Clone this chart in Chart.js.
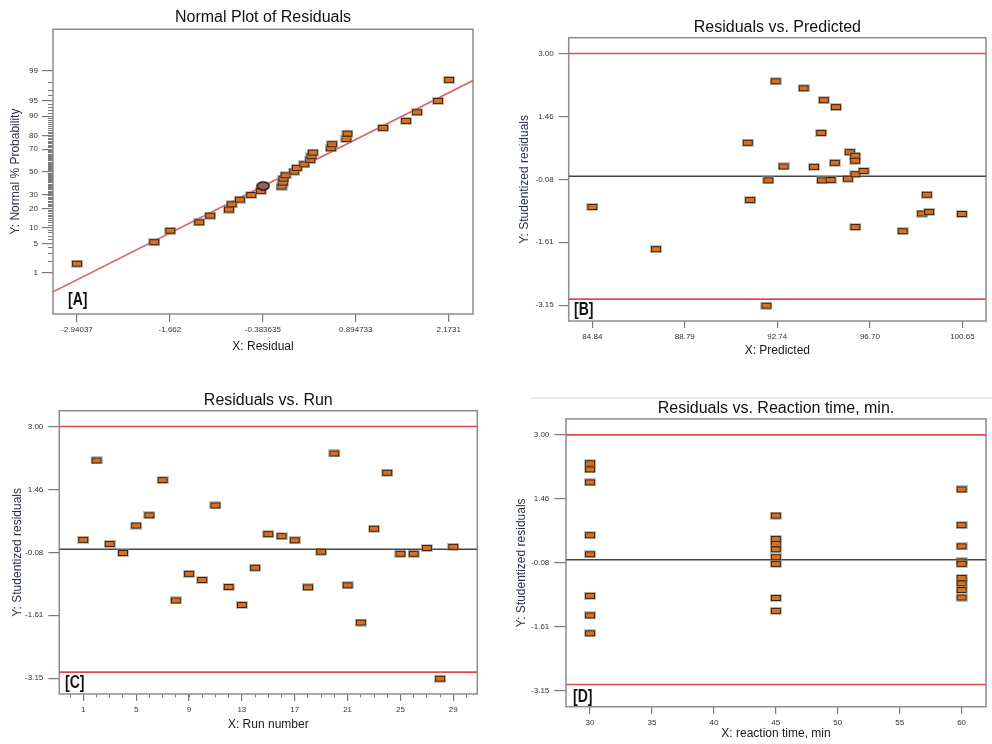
<!DOCTYPE html>
<html>
<head>
<meta charset="utf-8">
<script src="https://cdn.jsdelivr.net/npm/chart.js@4.4.1/dist/chart.umd.min.js"></script>
<style>
body { margin: 0; background: #fff; width: 992px; height: 744px; position: relative; overflow: hidden; }
canvas { position: absolute; }
.tag { position: absolute; font-family: "Liberation Sans", Arial, sans-serif; font-weight: bold; font-size: 18px; line-height: 18px; color: #111; transform: scaleX(0.78); transform-origin: 0 0; }
.sep { position: absolute; left: 531px; top: 397px; width: 461px; height: 2px; background: #e8e8e8; }
</style>
</head>
<body>
<canvas id="chartA" width="496" height="372" style="left:0;top:0"></canvas>
<canvas id="chartB" width="496" height="372" style="left:496px;top:0"></canvas>
<div class="sep"></div>
<canvas id="chartC" width="496" height="372" style="left:0;top:372px"></canvas>
<canvas id="chartD" width="496" height="372" style="left:496px;top:372px"></canvas>
<div class="tag" style="left:68px;top:290px">[A]</div>
<div class="tag" style="left:574px;top:300px">[B]</div>
<div class="tag" style="left:65px;top:673px">[C]</div>
<div class="tag" style="left:573px;top:687px">[D]</div>
<script>
// [A] normal plot of residuals
var normResidual = [-2.940, -1.877, -1.657, -1.259, -1.108, -0.851, -0.814, -0.700, -0.544, -0.411, -0.127, -0.109, -0.100, -0.072, 0.047, 0.084, 0.185, 0.267, 0.285, 0.304, 0.551, 0.569, 0.766, 0.780, 1.271, 1.587, 1.738, 2.027, 2.178];
var normProb = [1.74, 5.3, 8.8, 12.3, 15.7, 19.3, 22.8, 26.2, 29.8, 33.1, 36.8, 40.3, 43.9, 46.9, 50.3, 53.7, 57.0, 60.9, 64.1, 67.2, 70.7, 73.8, 77.6, 81.1, 84.5, 88.0, 91.5, 94.9, 98.3];
var markedResidual = [-0.379];
var markedProb = [37.4];
var normLineResidual = [-3.27, 2.507];
var normLineProb = [0.29, 98.23];
var probTicks = [1, 5, 10, 20, 30, 50, 70, 80, 90, 95, 99];
var residualTicks = ['-2.94037', '-1.662', '-0.383635', '0.894733', '2.1731'];

// [B] residuals vs predicted
var predicted = [84.84, 87.56, 91.48, 91.58, 92.28, 92.36, 92.67, 93.01, 93.87, 94.31, 94.62, 94.65, 94.73, 95.02, 95.20, 95.25, 95.76, 95.84, 96.07, 96.07, 96.08, 96.08, 96.43, 98.10, 98.93, 99.13, 99.23, 100.63];
var predResid = [-0.75, -1.78, 0.82, -0.58, -3.16, -0.10, 2.32, 0.24, 2.15, 0.23, 1.06, -0.10, 1.86, -0.09, 0.33, 1.69, -0.06, 0.59, 0.50, 0.38, 0.05, -1.24, 0.13, -1.34, -0.91, -0.45, -0.87, -0.92];
var predTicks = ['84.84', '88.79', '92.74', '96.70', '100.65'];

// [C] residuals vs run
var runNumber = [1, 2, 3, 4, 5, 6, 7, 8, 9, 10, 11, 12, 13, 14, 15, 16, 17, 18, 19, 20, 21, 22, 23, 24, 25, 26, 27, 28, 29];
var runResid = [0.23, 2.17, 0.13, -0.09, 0.58, 0.83, 1.69, -1.25, -0.60, -0.75, 1.07, -0.92, -1.36, -0.45, 0.37, 0.32, 0.22, -0.93, -0.06, 2.34, -0.88, -1.79, 0.50, 1.87, -0.11, -0.11, 0.03, -3.16, 0.06];
var runTicks = [1, 5, 9, 13, 17, 21, 25, 29];

// [D] residuals vs reaction time
var reactionTime = [30, 30, 30, 30, 30, 30, 30, 30, 45, 45, 45, 45, 45, 45, 45, 45, 60, 60, 60, 60, 60, 60, 60, 60, 60];
var timeResid = [2.32, 2.17, 1.86, 0.59, 0.13, -0.87, -1.34, -1.77, 1.06, 0.50, 0.38, 0.25, 0.06, -0.10, -0.92, -1.23, 1.69, 0.83, 0.32, -0.04, -0.10, -0.44, -0.57, -0.73, -0.91];
var timeTicks = [30, 35, 40, 45, 50, 55, 60];

// shared studentized-residual axis
var studTicks = ['3.00', '1.46', '-0.08', '-1.61', '-3.15'];
var limitLines = [3.00, -3.00];
var zeroLine = [0];

Chart.defaults.font.family = '"Liberation Sans", Arial, sans-serif';
Chart.defaults.animation = false;

// inverse normal cdf (Acklam)
function probit(p) {
    var a = [-39.69683028665376, 220.9460984245205, -275.9285104469687, 138.3577518672690, -30.66479806614716, 2.506628277459239];
    var b = [-54.47609879822406, 161.5858368580409, -155.6989798598866, 66.80131188771972, -13.28068155288572];
    var c = [-0.007784894002430293, -0.3223964580411365, -2.400758277161838, -2.549732539343734, 4.374664141464968, 2.938163982698783];
    var d = [0.007784695709041462, 0.3224671290700398, 2.445134137142996, 3.754408661907416];
    var q, r;
    if (p < 0.02425) {
        q = Math.sqrt(-2 * Math.log(p));
        return (((((c[0] * q + c[1]) * q + c[2]) * q + c[3]) * q + c[4]) * q + c[5]) / ((((d[0] * q + d[1]) * q + d[2]) * q + d[3]) * q + 1);
    }
    if (p > 1 - 0.02425) return -probit(1 - p);
    q = p - 0.5; r = q * q;
    return (((((a[0] * r + a[1]) * r + a[2]) * r + a[3]) * r + a[4]) * r + a[5]) * q / (((((b[0] * r + b[1]) * r + b[2]) * r + b[3]) * r + b[4]) * r + 1);
}

// marker images
function rectMarker() {
    var c = document.createElement('canvas');
    c.width = 12; c.height = 8;
    var g = c.getContext('2d');
    g.fillStyle = 'rgba(140,140,140,0.55)'; g.fillRect(0, 0, 12, 8);
    g.fillStyle = '#3a2208'; g.fillRect(1, 1, 10, 6);
    g.fillStyle = '#dc6f1b'; g.fillRect(2, 2, 8, 4);
    return c;
}
function ovalMarker() {
    var c = document.createElement('canvas');
    c.width = 14; c.height = 10;
    var g = c.getContext('2d');
    g.beginPath(); g.ellipse(7, 5, 6, 4, 0, 0, Math.PI * 2);
    g.fillStyle = '#a65a5c'; g.fill();
    g.lineWidth = 1.6; g.strokeStyle = '#1a1a1a'; g.stroke();
    return c;
}
var squareImg = rectMarker();
var ovalImg = ovalMarker();

var framePlugin = {
    id: 'frame',
    beforeDatasetsDraw: function (chart) {
        var a = chart.chartArea, ctx = chart.ctx;
        ctx.save();
        ctx.strokeStyle = '#8c8c8c';
        ctx.lineWidth = 1.5;
        ctx.strokeRect(a.left, a.top, a.right - a.left, a.bottom - a.top);
        ctx.restore();
    }
};

function pairs(xs, ys) {
    return xs.map(function (x, i) { return { x: x, y: ys[i] }; });
}
function setTicks(values) {
    return function (scale) { scale.ticks = values.map(function (v) { return { value: v }; }); };
}
function fixWidth(w) { return function (s) { s.width = w; }; }
function fixHeight(h) { return function (s) { s.height = h; }; }

function pointSet(data) {
    return { data: data, pointStyle: squareImg, pointRadius: 5, order: 0 };
}
function lineSet(data, color) {
    return { data: data, showLine: true, borderColor: color, borderWidth: 1.6, pointRadius: 0, order: 2 };
}
function hLines(values, xmin, xmax, color) {
    return values.map(function (v) { return lineSet([{ x: xmin, y: v }, { x: xmax, y: v }], color); });
}

function titleOpt(text, top, bottom) {
    return { display: true, text: text, fullSize: false, color: '#111', font: { size: 16, weight: 'normal' }, padding: { top: top, bottom: bottom } };
}
function xAxis(o) {
    return {
        type: 'linear', position: 'bottom', weight: 1, min: o.min, max: o.max, bounds: 'data',
        afterBuildTicks: setTicks(o.ticks), afterFit: fixHeight(o.height),
        border: { display: false },
        grid: { drawOnChartArea: false, tickLength: o.tick, color: '#7a7a7a', lineWidth: 1.2 },
        ticks: { autoSkip: false, maxRotation: 0, padding: o.pad, color: '#333', font: { size: 8 },
            callback: function (v, i) { return o.labels[i]; } },
        title: { display: true, text: o.title, color: '#1a1a1a', font: { size: 12 }, padding: { top: 0, bottom: o.titlePad } }
    };
}
function yAxis(o) {
    return {
        type: 'linear', position: 'left', weight: 1, min: o.min, max: o.max, bounds: 'data',
        afterBuildTicks: setTicks(o.ticks), afterFit: fixWidth(o.width),
        border: { display: false },
        grid: { drawOnChartArea: false, tickLength: o.tick, color: '#7a7a7a', lineWidth: 1.2 },
        ticks: { autoSkip: false, padding: o.pad, color: '#333', font: { size: 8 },
            callback: function (v, i) { return o.labels[i]; } },
        title: { display: true, text: o.title, color: '#28324a', font: { size: 12 }, padding: { top: o.titlePad, bottom: 0 } }
    };
}
function commonOptions(title, padding, scales) {
    return {
        responsive: false,
        layout: { padding: padding },
        plugins: { legend: { display: false }, tooltip: { enabled: false }, title: title },
        scales: scales
    };
}

// ---- [A]
var zTicks = probTicks.map(function (p) { return probit(p / 100); });
var minorProb = [];
for (var p = 2; p <= 98; p++) if (probTicks.indexOf(p) < 0) minorProb.push(p);
var zMinor = minorProb.map(function (p) { return probit(p / 100); });
var toZ = function (arr) { return arr.map(function (p) { return probit(p / 100); }); };

new Chart(document.getElementById('chartA'), {
    type: 'scatter',
    data: { datasets: [
        { data: pairs(markedResidual, toZ(markedProb)), pointStyle: ovalImg, pointRadius: 5, order: 0 },
        pointSet(pairs(normResidual, toZ(normProb))),
        lineSet(pairs(normLineResidual, toZ(normLineProb)), '#e06060')
    ] },
    options: commonOptions(titleOpt('Normal Plot of Residuals', 8, 2), { left: 0, right: 23, top: 0, bottom: 0 }, {
        x: xAxis({ min: -3.2703, max: 2.507, ticks: residualTicks.map(parseFloat), labels: residualTicks, height: 58, tick: 8, pad: 3, title: 'X: Residual', titlePad: 18 }),
        y: yAxis({ min: -3.27, max: 3.285, ticks: zTicks, labels: probTicks.map(String), width: 53, tick: 11, pad: 4, title: 'Y: Normal % Probability', titlePad: 8 }),
        yMinor: {
            type: 'linear', position: 'left', weight: 0, min: -3.27, max: 3.285, bounds: 'data',
            afterBuildTicks: setTicks(zMinor), afterFit: fixWidth(0),
            border: { display: false },
            grid: { drawOnChartArea: false, tickLength: 5, color: '#7a7a7a', lineWidth: 1 },
            ticks: { display: false }
        }
    }),
    plugins: [framePlugin]
});

// ---- [B]
var studVals = studTicks.map(parseFloat);
new Chart(document.getElementById('chartB'), {
    type: 'scatter',
    data: { datasets: [pointSet(pairs(predicted, predResid))]
        .concat(hLines(limitLines, 83.83, 101.66, '#e04c4c'))
        .concat(hLines(zeroLine, 83.83, 101.66, '#454545')) },
    options: commonOptions(titleOpt('Residuals vs. Predicted', 18, 0.5), { left: 0, right: 5.3, top: 0, bottom: 0 }, {
        x: xAxis({ min: 83.83, max: 101.66, ticks: predTicks.map(parseFloat), labels: predTicks, height: 51, tick: 7, pad: 4, title: 'X: Predicted', titlePad: 14 }),
        y: yAxis({ min: -3.535, max: 3.385, ticks: studVals, labels: studTicks, width: 72.7, tick: 10, pad: 5, title: 'Y: Studentized residuals', titlePad: 21 })
    }),
    plugins: [framePlugin]
});

// ---- [C]
var runMinor = [];
for (var r = 0; r <= 30; r++) runMinor.push(r);
new Chart(document.getElementById('chartC'), {
    type: 'scatter',
    data: { datasets: [pointSet(pairs(runNumber, runResid))]
        .concat(hLines(limitLines, -0.816, 30.816, '#e04c4c'))
        .concat(hLines(zeroLine, -0.816, 30.816, '#454545')) },
    options: commonOptions(titleOpt('Residuals vs. Run', 19, 0.5), { left: 0, right: 18.7, top: 0, bottom: 0 }, {
        x: xAxis({ min: -0.816, max: 30.816, ticks: runTicks, labels: runTicks.map(String), height: 50, tick: 7, pad: 4, title: 'X: Run number', titlePad: 12 }),
        xMinor: {
            type: 'linear', position: 'bottom', weight: 0, min: -0.816, max: 30.816, bounds: 'data',
            afterBuildTicks: setTicks(runMinor), afterFit: fixHeight(0),
            border: { display: false },
            grid: { drawOnChartArea: false, tickLength: 3.5, color: '#7a7a7a', lineWidth: 1 },
            ticks: { display: false }
        },
        y: yAxis({ min: -3.535, max: 3.385, ticks: studVals, labels: studTicks, width: 59.3, tick: 11, pad: 5, title: 'Y: Studentized residuals', titlePad: 10 })
    }),
    plugins: [framePlugin]
});

// ---- [D]
new Chart(document.getElementById('chartD'), {
    type: 'scatter',
    data: { datasets: [pointSet(pairs(reactionTime, timeResid))]
        .concat(hLines(limitLines, 28.06, 61.97, '#e04c4c'))
        .concat(hLines(zeroLine, 28.06, 61.97, '#454545')) },
    options: commonOptions(titleOpt('Residuals vs. Reaction time, min.', 26.7, 1), { left: 0, right: 1, top: 0, bottom: 0 }, {
        x: xAxis({ min: 28.06, max: 61.97, ticks: timeTicks, labels: timeTicks.map(String), height: 37.3, tick: 7, pad: 4, title: 'X: reaction time, min', titlePad: 3.5 }),
        y: yAxis({ min: -3.535, max: 3.385, ticks: studVals, labels: studTicks, width: 70, tick: 11.7, pad: 5, title: 'Y: Studentized residuals', titlePad: 18 })
    }),
    plugins: [framePlugin]
});
</script>
</body>
</html>
